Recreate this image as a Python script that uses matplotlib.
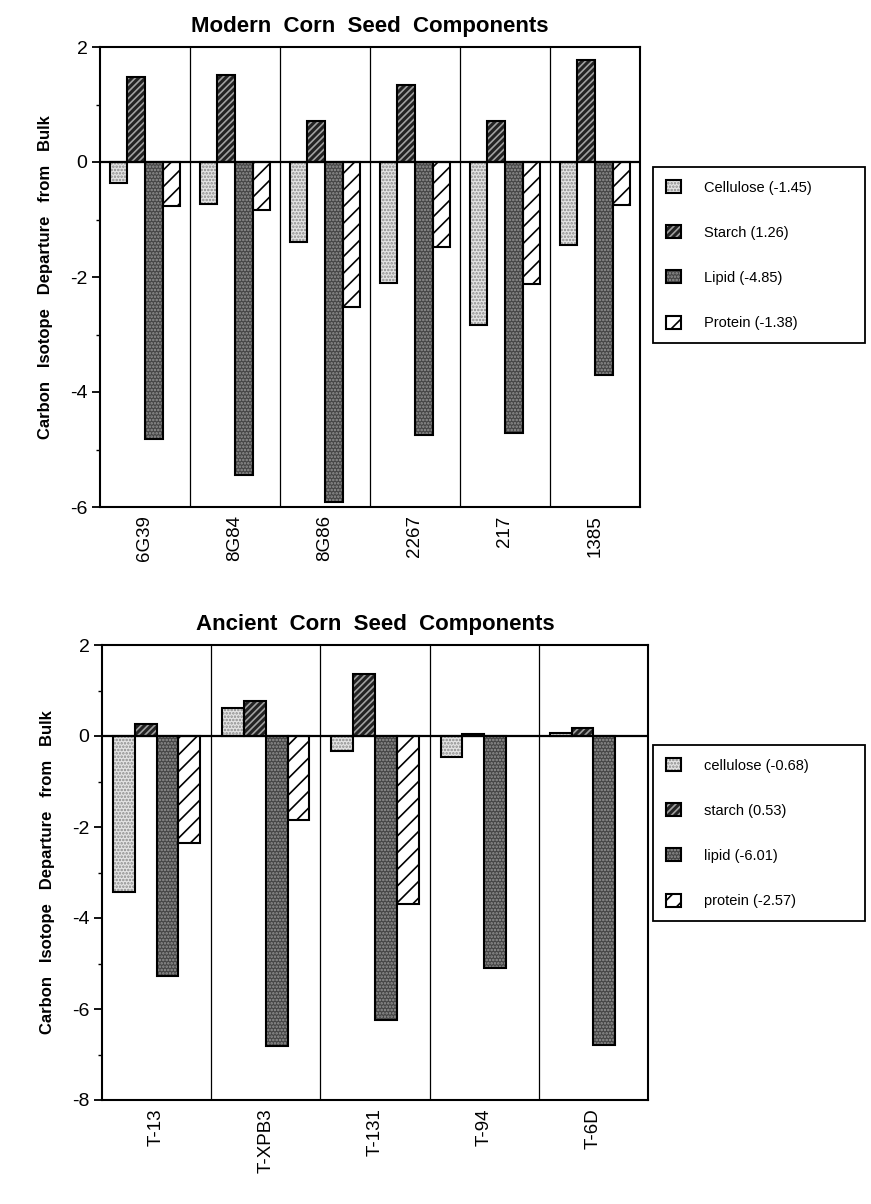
import numpy as np
import matplotlib
matplotlib.use("Agg")
import matplotlib.pyplot as plt
from matplotlib.patches import Patch

plt.rcParams['font.family'] = ['Liberation Sans', 'DejaVu Sans']
plt.rcParams['axes.unicode_minus'] = False
plt.rcParams['hatch.linewidth'] = 1.2

# modern corn seeds
modern_samples = ['6G39', '8G84', '8G86', '2267', '217', '1385']
modern_cellulose = [-0.36, -0.73, -1.39, -2.11, -2.84, -1.44]
modern_starch = [1.48, 1.51, 0.72, 1.34, 0.72, 1.78]
modern_lipid = [-4.81, -5.44, -5.91, -4.75, -4.72, -3.70]
modern_protein = [-0.76, -0.84, -2.53, -1.48, -2.12, -0.74]
modern_labels = ['Cellulose (-1.45)', 'Starch (1.26)', 'Lipid (-4.85)', 'Protein (-1.38)']

# ancient corn seeds (no protein value for T-94 and T-6D)
ancient_samples = ['T-13', 'T-XPB3', 'T-131', 'T-94', 'T-6D']
ancient_cellulose = [-3.42, 0.61, -0.34, -0.47, 0.06]
ancient_starch = [0.26, 0.77, 1.36, 0.04, 0.17]
ancient_lipid = [-5.28, -6.82, -6.24, -5.10, -6.79]
ancient_protein = [-2.35, -1.85, -3.70, np.nan, np.nan]
ancient_labels = ['cellulose (-0.68)', 'starch (0.53)', 'lipid (-6.01)', 'protein (-2.57)']

# fill, hatch, hatch colour for each component
styles = [
    ('#e4e4e4', '.....', '#8a8a8a'),
    ('#222222', '/////', '#a0a0a0'),
    ('#454545', '.....', '#959595'),
    ('white', '//', 'black'),
]


def draw_panel(ax, samples, series, labels, ylim, title, width, leg_box):
    n = len(samples)
    x = np.arange(n) + 0.5
    for k, vals in enumerate(series):
        fc, hatch, hc = styles[k]
        vals = np.array(vals, dtype=float)
        ok = ~np.isnan(vals)
        pos = x[ok] + (k - 1.5) * width
        ax.bar(pos, vals[ok], width, color=fc, hatch=hatch, edgecolor=hc,
               linewidth=0, zorder=2)
        ax.bar(pos, vals[ok], width, fill=False, edgecolor='black',
               linewidth=1.5, zorder=3)
    for i in range(1, n):
        ax.axvline(i, color='black', lw=0.9, zorder=1)
    ax.axhline(0, color='black', lw=1.6, zorder=4)
    ax.set_xlim(0, n)
    ax.set_ylim(*ylim)
    ax.set_yticks(np.arange(ylim[0], ylim[1] + 1, 2))
    ax.set_yticks(np.arange(ylim[0] + 1, ylim[1], 2), minor=True)
    ax.set_xticks(x)
    ax.set_xticklabels(samples, rotation=90, fontsize=13.5)
    ax.tick_params(axis='x', length=0, pad=6)
    ax.tick_params(axis='y', which='major', length=6, width=1.3, labelsize=14, pad=3)
    ax.tick_params(axis='y', which='minor', length=3, width=1.0)
    for sp in ax.spines.values():
        sp.set_linewidth(1.5)
    ax.set_ylabel('Carbon   Isotope   Departure   from   Bulk', fontsize=12,
                  fontweight='bold', labelpad=12)
    ax.set_title(title, fontsize=16, fontweight='bold', pad=11)

    handles = []
    for fc, hatch, hc in styles:
        handles.append((Patch(facecolor=fc, hatch=hatch, edgecolor=hc, linewidth=0),
                        Patch(fill=False, edgecolor='black', linewidth=1.5)))
    leg = ax.legend(handles, labels, loc='upper left', mode='expand',
                    bbox_to_anchor=leg_box, bbox_transform=ax.figure.transFigure,
                    fontsize=10.5, handlelength=1.0, handleheight=1.0,
                    labelspacing=2.1, handletextpad=1.6, borderpad=0.9,
                    fancybox=False, framealpha=1, borderaxespad=0)
    leg.get_frame().set_edgecolor('black')
    leg.get_frame().set_linewidth(1.3)


W, H = 871, 1204
fig = plt.figure(figsize=(W / 100, H / 100), dpi=100)

ax1 = fig.add_axes([100 / W, 1 - 507 / H, 540 / W, 460 / H])
draw_panel(ax1, modern_samples,
           [modern_cellulose, modern_starch, modern_lipid, modern_protein],
           modern_labels, (-6, 2), 'Modern  Corn  Seed  Components', 0.195,
           (653 / W, 1 - 343 / H, 212 / W, 176 / H))

ax2 = fig.add_axes([102 / W, 1 - 1100 / H, 546 / W, 455 / H])
draw_panel(ax2, ancient_samples,
           [ancient_cellulose, ancient_starch, ancient_lipid, ancient_protein],
           ancient_labels, (-8, 2), 'Ancient  Corn  Seed  Components', 0.2,
           (653 / W, 1 - 923 / H, 212 / W, 178 / H))

fig.savefig('out.png', dpi=100)
